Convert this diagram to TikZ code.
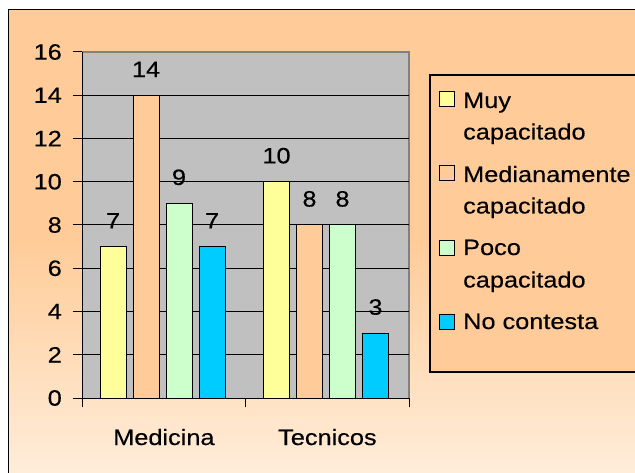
\documentclass[tikz,border=0pt]{standalone}
\usepackage{fontspec}
\setmainfont{Liberation Sans}[FakeStretch=1.14,FakeBold=0.35]
\definecolor{cyel}{HTML}{FFFF99}
\definecolor{corg}{HTML}{FFCC99}
\definecolor{cgrn}{HTML}{CCFFCC}
\definecolor{cblu}{HTML}{00CCFF}
\definecolor{cplot}{HTML}{C0C0C0}
\definecolor{cpborder}{HTML}{808080}
\definecolor{cbglight}{HTML}{FFEEDC}
\begin{document}
\begin{tikzpicture}[x=1pt,y=1pt,
  txt/.style={font=\fontsize{22.2}{26}\selectfont, inner sep=0pt},
  barbox/.style={draw=black, line width=1pt},
  gridl/.style={black, line width=1pt},
  legsq/.style={draw=black, line width=0.9pt, minimum size=15pt, inner sep=0pt}]
\useasboundingbox (0,0) rectangle (635,472);
\clip (0,0) rectangle (635,472);
% outer frame background
\fill[corg] (8.5,-10) rectangle (645,462.5);
\shade[top color=corg, bottom color=cbglight] (8.5,-10) rectangle (645,230);
\draw[black, line width=1.6pt] (645,462.5) -- (8.5,462.5) -- (8.5,-10);
% plot area
\fill[cplot] (82,74) rectangle (409,420);
\draw[cpborder, line width=1.5pt] (82,420) -- (409,420) -- (409,74);
\foreach \v in {2,4,...,14} {
  \draw[gridl] (82,{74+21.625*\v}) -- (409,{74+21.625*\v});
}
% axes
\draw[gridl] (82,74) -- (82,420);
\draw[gridl] (82,74) -- (409,74);
\foreach \v in {0,2,...,16} {
  \draw[gridl] (73,{74+21.625*\v}) -- (82,{74+21.625*\v});
  \node[txt, anchor=east] (yl\v) at (62,{74+21.625*\v}) {\v};
}
\foreach \xx in {82,245.5,409} {
  \draw[gridl] (\xx,74) -- (\xx,65);
}
\node[txt, anchor=base] (catM) at (163.9,27) {Medicina};
\node[txt, anchor=base] (catT) at (327.4,27) {Tecnicos};
% bars
\foreach \c/\i/\v/\col in {0/0/7/cyel, 0/1/14/corg, 0/2/9/cgrn, 0/3/7/cblu,
                            1/0/10/cyel, 1/1/8/corg, 1/2/8/cgrn, 1/3/3/cblu} {
  \pgfmathsetmacro{\xl}{82+163.5*\c+18+33*\i}
  \pgfmathsetmacro{\yt}{74+21.625*\v}
  \filldraw[barbox, fill=\col] (\xl,74) rectangle ({\xl+26},\yt);
  \node[txt, anchor=south] (val\c\i) at ({\xl+13},{\yt+18}) {\v};
}
% legend
\shade[top color=corg, middle color=white, bottom color=corg] (430,100) rectangle (645,397);
\draw[black, line width=1.3pt] (645,397) -- (430,397) -- (430,100) -- (645,100);
\node[legsq, fill=cyel] (sq1) at (447.3,373) {};
\node[legsq, fill=corg] (sq2) at (447.3,299) {};
\node[legsq, fill=cgrn] (sq3) at (447.3,224) {};
\node[legsq, fill=cblu] (sq4) at (447.3,150) {};
\node[txt, anchor=base west] (l1a) at (463,364) {Muy};
\node[txt, anchor=base west] (l1b) at (463,332.5) {capacitado};
\node[txt, anchor=base west] (l2a) at (463,290) {Medianamente};
\node[txt, anchor=base west] (l2b) at (463,258.5) {capacitado};
\node[txt, anchor=base west] (l3a) at (463,217) {Poco};
\node[txt, anchor=base west] (l3b) at (463,184.5) {capacitado};
\node[txt, anchor=base west] (l4a) at (463,143) {No contesta};
\end{tikzpicture}
\end{document}
